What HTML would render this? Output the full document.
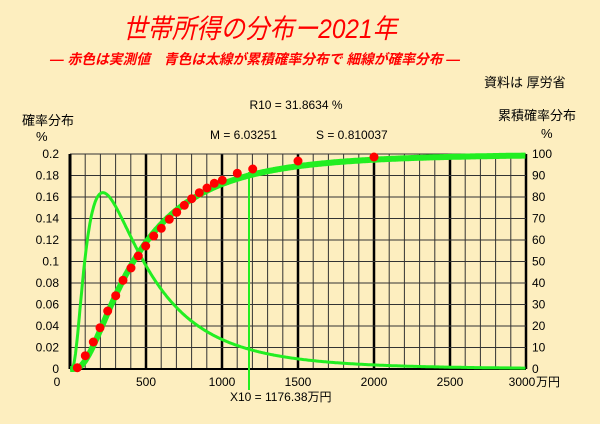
<!DOCTYPE html><html><head><meta charset="utf-8"><style>
body{margin:0;background:#fdeebf;}
svg{display:block}
text{font-family:"Liberation Sans","Noto Sans CJK JP",sans-serif;fill:#000}
</style></head><body>
<svg id="s" width="600" height="424" viewBox="0 0 600 424">
<rect width="600" height="424" fill="#fdeebf"/>
<text x="260" y="38" font-size="27" font-style="italic" style="fill:#f00" text-anchor="middle" textLength="274" lengthAdjust="spacingAndGlyphs">世帯所得の分布ー2021年</text>
<text x="255" y="64" font-size="14" font-style="italic" font-weight="bold" style="fill:#f00" text-anchor="middle" textLength="410" lengthAdjust="spacingAndGlyphs">― 赤色は実測値　青色は太線が累積確率分布で 細線が確率分布 ―</text>
<text x="484" y="87" font-size="13">資料は 厚労省</text>
<text x="296" y="109" font-size="12" text-anchor="middle">R10 = 31.8634 %</text>
<text x="22" y="125" font-size="13">確率分布</text>
<text x="36" y="141" font-size="13">%</text>
<text x="498" y="120" font-size="13">累積確率分布</text>
<text x="541" y="138" font-size="13">%</text>
<text x="210" y="139" font-size="12">M = 6.03251</text>
<text x="316" y="139" font-size="12">S = 0.810037</text>
<g id="g"></g>
<text x="230" y="401" font-size="12">X10 = 1176.38万円</text>
</svg>
<script>
var g=document.getElementById('g'),h='';
var X0=70,X1=526,Y0=369,Y1=154;
function px(v){return X0+(X1-X0)*v/3000}
function py(p){return Y0-(Y0-Y1)*p/0.2}
for(var i=0;i<=30;i++){var x=px(i*100);var thick=i%5==0;h+='<line x1="'+x+'" y1="'+Y1+'" x2="'+x+'" y2="'+Y0+'" stroke="'+(thick?'#000':'#333')+'" stroke-width="'+(thick?2.5:1)+'"/>';}
for(var j=0;j<=10;j++){var y=py(j*0.02);h+='<line x1="'+X0+'" y1="'+y+'" x2="'+X1+'" y2="'+y+'" stroke="#333" stroke-width="1"/>';
var lab=j==0?'0':(j*0.02).toFixed(2).replace(/0$/,'');if(j==5)lab='0.1';if(j==10)lab='0.2';
h+='<text x="59" y="'+(y+4)+'" font-size="12" text-anchor="end">'+lab+'</text>';
h+='<text x="532" y="'+(y+4)+'" font-size="12">'+(j*10)+'</text>';}
h+='<line x1="'+X0+'" y1="'+Y1+'" x2="'+X0+'" y2="'+Y0+'" stroke="#000" stroke-width="3"/>';
h+='<line x1="'+X0+'" y1="'+Y0+'" x2="'+X1+'" y2="'+Y0+'" stroke="#000" stroke-width="2"/>';
var bl=[[57,'0'],[146,'500'],[222,'1000'],[298,'1500'],[374,'2000'],[450,'2500'],[522,'3000']];
bl.forEach(function(b){h+='<text x="'+b[0]+'" y="386" font-size="12" text-anchor="middle">'+b[1]+'</text>'});
h+='<text x="536" y="386" font-size="12">万円</text>';
var M=6.03251,S=0.810037;
function erf(x){var t=1/(1+0.3275911*Math.abs(x));var y=1-(((((1.061405429*t-1.453152027)*t)+1.421413741)*t-0.284496736)*t+0.254829592)*t*Math.exp(-x*x);return x>=0?y:-y}
var p1='',p2='';
for(var v=1;v<=3000;v+=5){var z=(Math.log(v)-M)/S;var pdf=Math.exp(-z*z/2)/(v*S*Math.sqrt(2*Math.PI))*100;var cdf=0.5*(1+erf(z/Math.SQRT2));
p1+=(p1?'L':'M')+px(v).toFixed(1)+','+py(pdf).toFixed(1);p2+=(p2?'L':'M')+px(v).toFixed(1)+','+py(cdf*0.2).toFixed(1);}
h+='<line x1="249" y1="172" x2="249" y2="390" stroke="#22ee22" stroke-width="2"/>';
h+='<path d="'+p1+'" fill="none" stroke="#22ee22" stroke-width="3"/>';
h+='<path d="'+p2+'" fill="none" stroke="#22ee22" stroke-width="6"/>';
var d=[[232,683],[256,647],[280,606],[300,563],[323,513],[347,467],[369,421],[393,384],[415,348],[437,318],[461,288],[484,265],[508,238],[530,217],[553,196],[575,176],[598,158],[621,144],[643,130],[667,121],[712,100],[758,87]];
d.forEach(function(p){h+='<circle cx="'+(p[0]/3).toFixed(1)+'" cy="'+(140+p[1]/3).toFixed(1)+'" r="4.5" fill="#f00"/>'});
h+='<circle cx="298" cy="161" r="4.5" fill="#f00"/><circle cx="374" cy="157" r="4.5" fill="#f00"/>';
g.innerHTML=h;
</script>
</body></html>
